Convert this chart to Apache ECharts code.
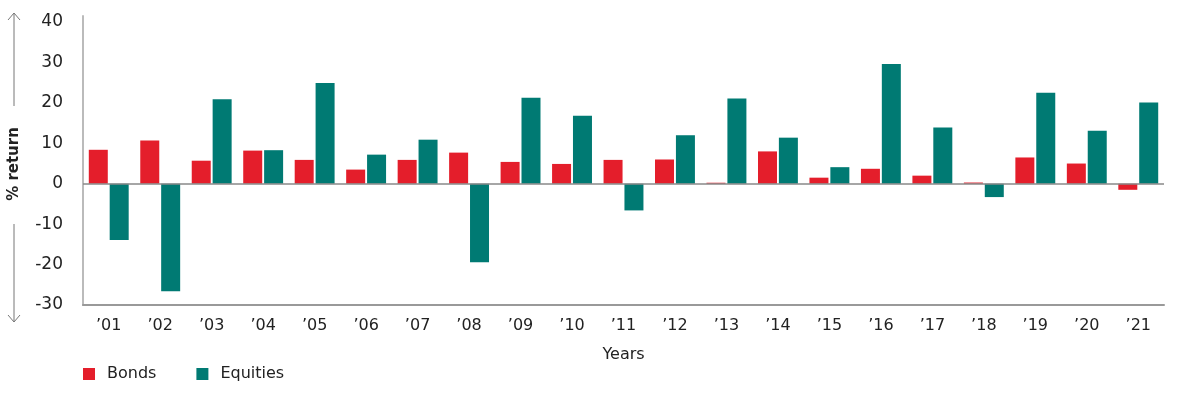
<!DOCTYPE html>
<html>
<head>
<meta charset="utf-8">
<script src="https://cdn.jsdelivr.net/npm/echarts@6/dist/echarts.min.js"></script>
<style>html,body{margin:0;padding:0;background:#fff}#c{width:1200px;height:393px}</style>
</head>
<body>
<div id="c"></div>
<script>
var years = ["\u201901","\u201902","\u201903","\u201904","\u201905","\u201906","\u201907","\u201908","\u201909","\u201910","\u201911","\u201912","\u201913","\u201914","\u201915","\u201916","\u201917","\u201918","\u201919","\u201920","\u201921"];
var bonds = [8.4, 10.7, 5.7, 8.2, 5.9, 3.5, 5.9, 7.7, 5.4, 4.9, 5.9, 6.0, 0.25, 8.0, 1.5, 3.7, 2.0, 0.3, 6.5, 5.0, -1.5];
var equities = [-13.9, -26.6, 20.9, 8.3, 24.9, 7.2, 10.9, -19.4, 21.3, 16.8, -6.6, 12.0, 21.1, 11.4, 4.1, 29.6, 13.9, -3.3, 22.5, 13.1, 20.1];
var yTicks = [-30, -20, -10, 0, 10, 20, 30, 40];

var FONT = "DejaVu Sans";
var chart = echarts.init(document.getElementById('c'));
chart.setOption({
  animation: false,
  textStyle: { fontFamily: FONT },
  grid: { left: 83, right: 36, top: 16, bottom: 88, containLabel: false },
  legend: {
    left: 78, top: 361, itemWidth: 12, itemHeight: 12, itemGap: 40,
    icon: 'rect',
    textStyle: { fontSize: 16, color: '#222', fontFamily: FONT, padding: [0, 0, 0, 7] },
    data: ['Bonds', 'Equities']
  },
  xAxis: {
    type: 'category', data: years,
    name: 'Years', nameLocation: 'middle', nameGap: 42,
    nameTextStyle: { fontSize: 16, color: '#222' },
    axisLine: { onZero: false, lineStyle: { color: '#999', width: 2 } },
    axisTick: { show: false },
    axisLabel: { fontSize: 16, color: '#222', margin: 13 }
  },
  yAxis: {
    type: 'value', min: -30, max: 41.5, interval: 10,
    axisLine: { show: true, lineStyle: { color: '#bbb', width: 2 } },
    axisTick: { show: false },
    splitLine: { show: false },
    axisLabel: {
      fontSize: 17, color: '#222', margin: 20,
      formatter: function (v) { return yTicks.indexOf(v) >= 0 ? String(v) : ''; }
    }
  },
  graphic: [
    { type: 'polyline', silent: true, shape: { points: [[14, 106], [14, 13]] }, style: { stroke: '#777', lineWidth: 1, fill: null } },
    { type: 'polyline', silent: true, shape: { points: [[8, 20], [14, 13], [20, 20]] }, style: { stroke: '#777', lineWidth: 1, fill: null } },
    { type: 'polyline', silent: true, shape: { points: [[14, 224], [14, 322]] }, style: { stroke: '#777', lineWidth: 1, fill: null } },
    { type: 'polyline', silent: true, shape: { points: [[8, 315], [14, 322], [20, 315]] }, style: { stroke: '#777', lineWidth: 1, fill: null } },
    { type: 'text', silent: true, x: 14, y: 164, rotation: Math.PI / 2,
      style: { text: '% return', font: 'bold 15px "DejaVu Sans"', fill: '#222', textAlign: 'center', textVerticalAlign: 'middle' } }
  ],
  series: [
    {
      name: 'Bonds', type: 'bar', data: bonds, barWidth: 19, barGap: '10%',
      itemStyle: { color: '#E41E2B' },
      markLine: {
        silent: true, symbol: 'none', label: { show: false },
        lineStyle: { color: '#888', width: 1.5, type: 'solid' },
        data: [{ yAxis: 0 }]
      }
    },
    {
      name: 'Equities', type: 'bar', data: equities, barWidth: 19, barGap: '10%',
      itemStyle: { color: '#007A73' }
    }
  ]
});
</script>
</body>
</html>
